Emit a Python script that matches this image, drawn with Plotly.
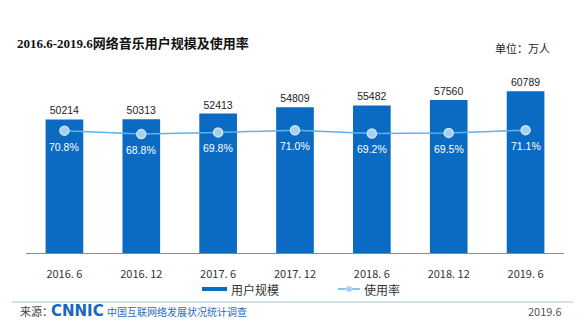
import plotly.graph_objects as go

categories = ["2016. 6", "2016. 12", "2017. 6", "2017. 12", "2018. 6", "2018. 12", "2019. 6"]
users = [50214, 50313, 52413, 54809, 55482, 57560, 60789]
rate = [70.8, 68.8, 69.8, 71.0, 69.2, 69.5, 71.1]
rate_labels = [f"{v:.1f}%" for v in rate]

W, H = 585, 324
ML, MR, MT, MB = 26, 21, 70, 71

def px(x):
    return (x - ML) / (W - ML - MR)

def py(y):
    return (H - MB - y) / (H - MT - MB)

BAR = "#0b6ac2"
LINE = "#5db3ea"
CJK = "Noto Sans CJK SC"

fig = go.Figure()
fig.add_trace(go.Bar(
    x=categories, y=users, name="用户规模",
    marker=dict(color=BAR, line=dict(width=0)),
    width=0.49,
    text=[str(v) for v in users], textposition="outside",
    textfont=dict(size=10.5, color="#222", family="Liberation Sans"),
    cliponaxis=False,
))
fig.add_trace(go.Scatter(
    x=categories, y=rate, name="使用率", yaxis="y2",
    mode="lines+markers",
    line=dict(color=LINE, width=1.5),
    marker=dict(size=9, color="#a2d1f2", line=dict(color="#cfe6f8", width=1.5)),
    cliponaxis=False,
))

fig.update_layout(
    width=W, height=H,
    margin=dict(l=ML, r=MR, t=MT, b=MB),
    paper_bgcolor="white", plot_bgcolor="white",
    showlegend=False,
    xaxis=dict(type="category", range=[-0.5, 6.5], showgrid=False,
               showline=True, linecolor="#8a8a8a", linewidth=1,
               ticks="outside", ticklen=11, tickcolor="rgba(0,0,0,0)",
               tickfont=dict(size=11, color="#333", family=CJK)),
    yaxis=dict(range=[0, 68800], visible=False, showgrid=False),
    yaxis2=dict(range=[0, 105.9], overlaying="y", visible=False, showgrid=False),
)

ann = []
# percentage labels under line points
for c, v, t in zip(categories, rate, rate_labels):
    ann.append(dict(text=t, x=c, y=v, xref="x", yref="y2", yshift=-16,
                    xanchor="center", yanchor="middle", showarrow=False,
                    font=dict(size=10.5, color="white", family="Liberation Sans")))

def pann(text, x, y, xanchor, size, color, family):
    ann.append(dict(text=text, x=px(x), y=py(y), xref="paper", yref="paper",
                    xanchor=xanchor, yanchor="middle", showarrow=False,
                    font=dict(size=size, color=color, family=family)))

pann("<b>2016.6-2019.6网络音乐用户规模及使用率</b>", 15, 43, "left", 13, "#111", "Liberation Serif, " + CJK)
pann("单位：万人", 493, 48, "left", 11, "#222", CJK)
pann("用户规模", 229, 289, "left", 12, "#333", CJK)
pann("使用率", 362, 289, "left", 12, "#333", CJK)
pann("来源：", 18, 311, "left", 11, "#444", CJK)
pann("<b>CNNIC</b>", 49, 311, "left", 15, "#1766c1", "DejaVu Sans")
pann("中国互联网络发展状况统计调查", 105, 311, "left", 10, "#2a6dc0", CJK)
pann("2019.6", 564, 311, "right", 11, "#555", CJK)
fig.update_layout(annotations=ann)

shapes = [
    dict(type="rect", xref="paper", yref="paper", x0=px(202), x1=px(227), y0=py(291), y1=py(287),
         fillcolor=BAR, line=dict(width=0)),
    dict(type="line", xref="paper", yref="paper", x0=px(338), x1=px(360), y0=py(289), y1=py(289),
         line=dict(color=LINE, width=1.5)),
    dict(type="circle", xref="paper", yref="paper", x0=px(346), x1=px(352), y0=py(292), y1=py(286),
         fillcolor="#a2d1f2", line=dict(color="#cfe6f8", width=1)),
    dict(type="line", xref="paper", yref="paper", x0=px(12), x1=px(573), y0=py(302), y1=py(302),
         line=dict(color="#a9bfdc", width=1)),
]
fig.update_layout(shapes=shapes)

fig.write_html("out.html")
